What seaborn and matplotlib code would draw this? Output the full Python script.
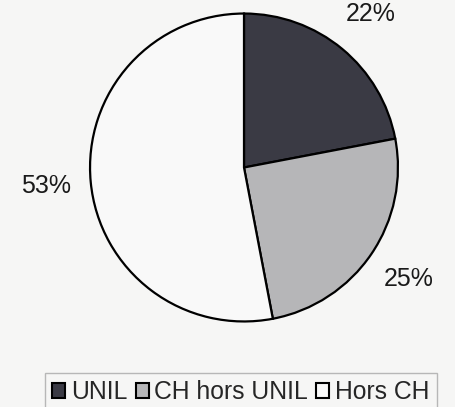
import seaborn as sns
import matplotlib.pyplot as plt

sns.set_style("white")
plt.rcParams['font.family'] = ['Liberation Sans', 'DejaVu Sans']

labels = ["UNIL", "CH hors UNIL", "Hors CH"]
shares = [22, 25, 53]
colors = ["#3a3a44", "#b6b6b8", "#f9f9f9"]
palette = sns.color_palette(colors)

bg = "#f6f6f5"
fig = plt.figure(figsize=(4.56, 4.07), dpi=100, facecolor=bg)
# pie centre ~ (244, 167) px, radius ~155 px
ax = fig.add_axes([(244 - 155.5) / 456, (407 - 167.5 - 155.5) / 407, 311 / 456, 311 / 407])
ax.set_facecolor(bg)

wedges, texts, autotexts = ax.pie(
    shares, colors=palette, startangle=90, counterclock=False,
    autopct=lambda p: f"{p:.0f}%", pctdistance=1.29,
    wedgeprops=dict(edgecolor="black", linewidth=1.6),
    textprops=dict(fontsize=18, color="#1a1a1a"),
)
ax.set_xlim(-1.01, 1.01)
ax.set_ylim(-1.01, 1.01)
ax.set_aspect("equal")
ax.axis("off")

leg = fig.legend(
    wedges, labels, loc="upper left",
    bbox_to_anchor=(45 / 456, 1 - 373 / 407), ncol=3,
    fontsize=17.8, frameon=True, fancybox=False,
    handlelength=0.52, handleheight=0.52, handletextpad=0.22,
    columnspacing=0.35, borderpad=0.3, borderaxespad=0,
)
leg.get_frame().set_edgecolor("#a8a8a8")
leg.get_frame().set_facecolor(bg)
leg.get_frame().set_linewidth(1.0)
for h in leg.legend_handles:
    h.set_edgecolor("black")
    h.set_linewidth(1.5)

fig.savefig("out.png", dpi=100, facecolor=bg)
